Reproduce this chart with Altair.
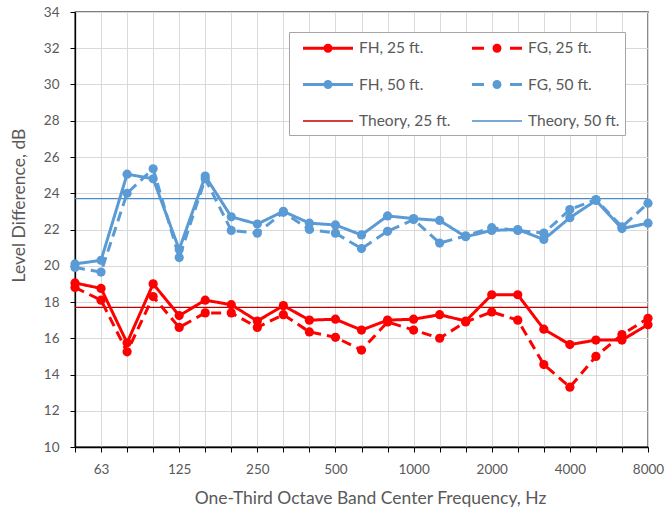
import json

import altair as alt
import pandas as pd

# One-third octave band centre frequencies (Hz) and the octave bands that get a label
freqs = ["50", "63", "80", "100", "125", "160", "200", "250", "315", "400", "500",
         "630", "800", "1000", "1250", "1600", "2000", "2500", "3150", "4000",
         "5000", "6300", "8000"]
octave_labels = ["63", "125", "250", "500", "1000", "2000", "4000", "8000"]

# Measured level differences, dB
fh_25 = [19.05, 18.75, 15.75, 19.0, 17.25, 18.1, 17.85, 16.95, 17.8, 17.0, 17.05,
         16.45, 17.0, 17.05, 17.3, 16.95, 18.4, 18.4, 16.5, 15.65, 15.9, 15.9, 16.75]
fg_25 = [18.8, 18.1, 15.25, 18.3, 16.6, 17.4, 17.4, 16.6, 17.3, 16.35, 16.05,
         15.35, 16.9, 16.45, 16.0, 16.9, 17.45, 17.0, 14.55, 13.3, 15.0, 16.2, 17.1]
fh_50 = [20.1, 20.3, 25.05, 24.8, 20.9, 24.95, 22.7, 22.3, 23.0, 22.35, 22.25,
         21.7, 22.75, 22.6, 22.5, 21.6, 21.95, 22.0, 21.45, 22.65, 23.6, 22.05, 22.35]
fg_50 = [19.9, 19.65, 24.0, 25.35, 20.45, 24.8, 21.95, 21.8, 22.95, 22.0, 21.8,
         20.95, 21.9, 22.55, 21.25, 21.65, 22.1, 21.95, 21.8, 23.1, 23.65, 22.15, 23.45]

# Theoretical level differences, dB
theory_25 = 17.7
theory_50 = 23.7

# Series in legend order (the legend fills column by column)
series_names = ["FH, 25 ft.", "FH, 50 ft.", "Theory, 25 ft.",
                "FG, 25 ft.", "FG, 50 ft.", "Theory, 50 ft."]
series_colors = ["#FF0000", "#5B9BD5", "#C00000", "#FF0000", "#5B9BD5", "#4A8BC9"]
series_dash = [[1, 0], [1, 0], [1, 0], [10, 6], [10, 6], [1, 0]]

measured_series = {
    "FH, 25 ft.": fh_25,
    "FG, 25 ft.": fg_25,
    "FH, 50 ft.": fh_50,
    "FG, 50 ft.": fg_50,
}
theory_series = {"Theory, 25 ft.": theory_25, "Theory, 50 ft.": theory_50}

measured = pd.DataFrame(
    [
        {"series": name, "freq": f, "level": v}
        for name, values in measured_series.items()
        for f, v in zip(freqs, values)
    ]
)
theory = pd.DataFrame(
    [
        {"series": name, "freq": f, "level": level}
        for name, level in theory_series.items()
        for f in (freqs[0], freqs[-1])
    ]
)


# Legend glyphs: line segment(s) with an optional marker, in symbol units
def bar(x0, x1, h):
    return f"M{x0},{-h}H{x1}V{h}H{x0}Z"


dot = "M1.85,0A0.45,0.45 0 1 1 2.75,0A0.45,0.45 0 1 1 1.85,0Z"
solid_glyph = bar(-0.2, 4.8, 0.15) + dot
dashed_glyph = bar(-0.2, 1.0, 0.15) + bar(3.6, 4.8, 0.15) + dot
theory_glyph = bar(-0.2, 4.8, 0.065)
series_glyphs = [solid_glyph, solid_glyph, theory_glyph,
                 dashed_glyph, dashed_glyph, theory_glyph]

text_color = "#595959"
grid_color = "#D9D9D9"

label_expr = f"indexof({json.dumps(octave_labels)}, datum.label) >= 0 ? datum.label : ''"

x_enc = alt.X(
    "freq:N",
    scale=alt.Scale(type="point", domain=freqs, padding=0),
    axis=alt.Axis(
        title="One-Third Octave Band Center Frequency, Hz",
        labelExpr=label_expr,
        labelAngle=0,
        grid=True,
        gridColor=grid_color,
        tickSize=5,
        tickColor="#000000",
        domainColor="#000000",
        domainWidth=1.3,
        labelPadding=10,
        titlePadding=14,
        titleX=295,
    ),
)
y_enc = alt.Y(
    "level:Q",
    scale=alt.Scale(domain=[10, 34], nice=False),
    axis=alt.Axis(
        title="Level Difference, dB",
        values=list(range(10, 35, 2)),
        grid=True,
        gridColor=grid_color,
        tickSize=5,
        tickColor="#000000",
        domainColor="#000000",
        domainWidth=1.3,
        labelPadding=11,
        titlePadding=15,
        titleY=193,
    ),
)

color_scale = alt.Scale(domain=series_names, range=series_colors)

legend = alt.Legend(
    title=None,
    orient="none",
    legendX=214,
    legendY=20,
    columns=2,
    columnPadding=12,
    rowPadding=16.5,
    padding=5,
    symbolSize=400,
    symbolOpacity=1,
    labelOffset=43,
    labelFontSize=15.5,
    labelColor=text_color,
    strokeColor="#A6A6A6",
    fillColor="#FFFFFF",
)

theory_lines = alt.Chart(theory).mark_line(strokeWidth=1.3).encode(
    x=x_enc,
    y=y_enc,
    color=alt.Color("series:N", scale=color_scale, legend=None),
)

measured_lines = alt.Chart(measured).mark_line(strokeWidth=3).encode(
    x=x_enc,
    y=y_enc,
    color=alt.Color("series:N", scale=color_scale, legend=None),
    strokeDash=alt.StrokeDash(
        "series:N", scale=alt.Scale(domain=series_names, range=series_dash), legend=None
    ),
)

measured_points = alt.Chart(measured).mark_circle(size=85, opacity=1).encode(
    x=x_enc,
    y=y_enc,
    color=alt.Color("series:N", scale=color_scale, legend=None),
)

# Invisible marks that carry the combined line-and-marker legend
legend_layer = alt.Chart(measured).mark_point(filled=True, opacity=0).encode(
    x=x_enc,
    y=y_enc,
    color=alt.Color("series:N", scale=color_scale, legend=legend),
    shape=alt.Shape(
        "series:N", scale=alt.Scale(domain=series_names, range=series_glyphs), legend=legend
    ),
)

chart = (
    alt.layer(theory_lines, measured_lines, measured_points, legend_layer)
    .resolve_legend(color="independent", shape="independent")
    .properties(
        width=573,
        height=435,
        autosize=alt.AutoSizeParams(type="none"),
        padding={"left": 75, "top": 12, "right": 19, "bottom": 67},
        background="#FFFFFF",
    )
    .configure(font="Lato")
    .configure_view(stroke="#000000", strokeWidth=1.3)
    .configure_axis(
        labelColor=text_color,
        labelFontSize=13.5,
        titleColor=text_color,
        titleFontSize=17.5,
        titleFontWeight="normal",
    )
)

chart.save("out.html", embed_options={"renderer": "svg", "actions": False})
